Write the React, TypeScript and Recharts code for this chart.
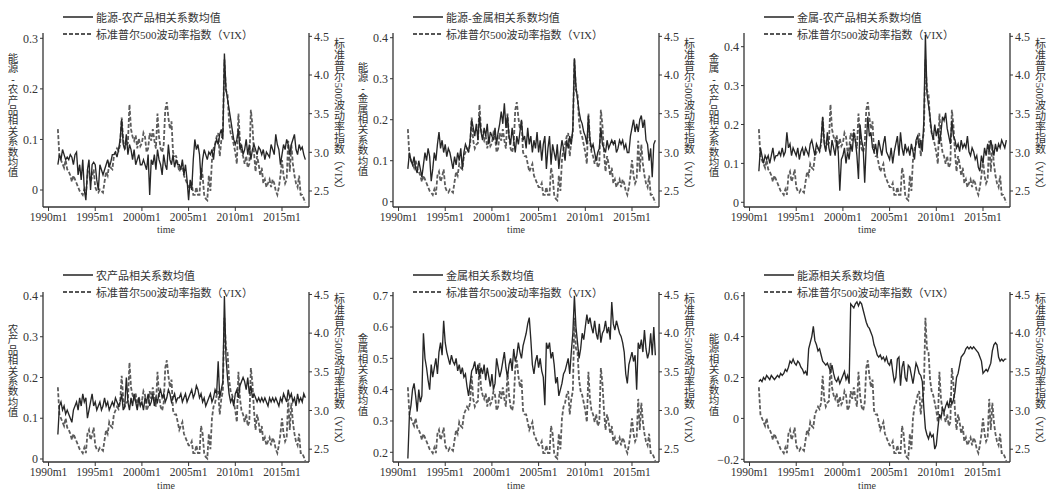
import React from "react";
import { ComposedChart, Line, XAxis, YAxis } from "recharts";

// bimonthly observations: Jan, Mar, May, Jul, Sep, Nov from 1991 to 2017m7
const months: number[] = [];
for (let y = 1991; y <= 2017; y++) {
  for (const m of [1, 3, 5, 7, 9, 11]) {
    if (y === 2017 && m > 7) break;
    months.push((y - 1990) * 12 + (m - 1));
  }
}
const xTicks = [0, 60, 120, 180, 240, 300];
const xTickLabel = (t: number) => `${1990 + t / 12}m1`;

// log VIX, shared by all six panels
const vix = [
  3.3, 2.95, 2.9, 2.85, 2.8, 2.9,
  2.78, 2.75, 2.7, 2.62, 2.7, 2.65,
  2.6, 2.55, 2.5, 2.48, 2.45, 2.52,
  2.45, 2.7, 2.75, 2.62, 2.68, 2.78,
  2.55, 2.5, 2.48, 2.52, 2.5, 2.48,
  2.62, 2.75, 2.7, 2.85, 2.8, 2.78,
  2.95, 3.0, 3.05, 3.02, 3.1, 3.45,
  3.15, 3.05, 3.1, 3.12, 3.62, 3.3,
  3.2, 3.15, 3.22, 3.05, 3.18, 3.08,
  3.12, 3.25, 3.2, 3.0, 3.05, 3.25,
  3.15, 3.3, 3.15, 3.05, 3.5, 3.2,
  3.05, 3.0, 3.1, 3.55, 3.65, 3.45,
  3.3, 3.4, 3.0, 2.95, 2.95, 2.85,
  2.75, 2.8, 2.85, 2.7, 2.65, 2.6,
  2.55, 2.55, 2.6, 2.45, 2.45, 2.55,
  2.45, 2.45, 2.8, 2.7, 2.45, 2.4,
  2.38, 2.7, 2.5, 2.9, 3.05, 3.1,
  3.2, 3.25, 2.95, 3.15, 3.25, 4.2,
  3.8, 3.75, 3.4, 3.25, 3.2, 3.1,
  3.0, 2.85, 3.5, 3.15, 3.0, 2.95,
  2.85, 2.95, 2.8, 2.85, 3.55, 3.35,
  3.0, 2.75, 2.95, 2.85, 2.7, 2.8,
  2.6, 2.65, 2.55, 2.6, 2.65, 2.55,
  2.65, 2.6, 2.5, 2.45, 2.55, 2.7,
  2.9, 2.7, 2.6, 2.65, 3.15, 2.75,
  3.1, 2.85, 2.7, 2.6, 2.55, 2.7,
  2.45, 2.45, 2.4, 2.35,
];

const energyAgri = [
  0.05, 0.07, 0.06, 0.08, 0.07, 0.06,
  0.065, 0.06, 0.07, 0.065, 0.05, 0.07,
  0.075, 0.03, 0.05, 0.02, 0.06, 0.0,
  -0.02, 0.04, 0.06, 0.0, 0.05, 0.055,
  0.05, 0.02, 0.0, 0.05, 0.04, 0.03,
  0.04, 0.05, 0.06, 0.045, 0.055, 0.07,
  0.07, 0.075, 0.065, 0.08, 0.1, 0.14,
  0.09, 0.08, 0.11, 0.07, 0.09, 0.08,
  0.06, 0.08, 0.05, 0.06, 0.07, 0.05,
  0.05, 0.06, 0.05, 0.04, 0.07, -0.01,
  0.06, 0.05, 0.07, 0.04, 0.08, 0.06,
  0.05, 0.03, 0.07, 0.05, 0.04, 0.09,
  0.06, 0.05, 0.07, 0.045, 0.06, 0.05,
  0.05, 0.04, 0.06, 0.03, 0.05, 0.02,
  -0.02, 0.02, 0.0, 0.06, 0.1, 0.08,
  0.09, 0.07, 0.02, 0.06, 0.08, 0.07,
  0.06, 0.075, 0.07, 0.08, 0.06, 0.09,
  0.1, 0.09, 0.11, 0.12, 0.1, 0.27,
  0.2, 0.18, 0.16, 0.14, 0.12, 0.1,
  0.09, 0.1, 0.12, 0.08, 0.09, 0.07,
  0.08, 0.1, 0.07, 0.09, 0.06, 0.08,
  0.09, 0.08, 0.07, 0.085, 0.08, 0.07,
  0.08, 0.06, 0.075, 0.07, 0.065, 0.09,
  0.08, 0.07, 0.11, 0.09, 0.08, 0.05,
  0.07, 0.09, 0.08, 0.1, 0.09, 0.07,
  0.09, 0.1, 0.11, 0.08, 0.07, 0.09,
  0.08, 0.085, 0.07, 0.06,
];

const energyMetal = [
  0.08, 0.12, 0.1, 0.09, 0.11, 0.08,
  0.07, 0.1, 0.08, 0.06, 0.09, 0.12,
  0.1, 0.13, 0.11, 0.05, 0.08, 0.12,
  0.1, 0.14, 0.17, 0.13, 0.15, 0.12,
  0.14, 0.11, 0.13, 0.12, 0.1, 0.08,
  0.11, 0.09, 0.12, 0.1, 0.13, 0.08,
  0.12, 0.14, 0.13, 0.12, 0.15, 0.2,
  0.18, 0.16, 0.19, 0.15, 0.21, 0.17,
  0.15, 0.18, 0.16, 0.19, 0.14, 0.17,
  0.16, 0.15, 0.18, 0.14, 0.17, 0.19,
  0.22, 0.19, 0.24, 0.18, 0.21, 0.16,
  0.14, 0.18, 0.15, 0.12, 0.16, 0.14,
  0.17, 0.2, 0.15, 0.16, 0.13, 0.18,
  0.14, 0.16, 0.12, 0.15, 0.13, 0.17,
  0.12, 0.15, 0.1, 0.14, 0.16, 0.08,
  0.13, 0.16, 0.09, 0.14, 0.12, 0.1,
  0.14, 0.08, 0.12, 0.15, 0.13, 0.1,
  0.15, 0.13, 0.16, 0.14, 0.18, 0.35,
  0.28, 0.25, 0.22, 0.2, 0.19, 0.17,
  0.16, 0.14, 0.21, 0.15, 0.13, 0.14,
  0.12, 0.1, 0.12, 0.13, 0.18, 0.14,
  0.13, 0.12, 0.15, 0.13, 0.14, 0.15,
  0.14, 0.15, 0.12, 0.13, 0.15, 0.14,
  0.15, 0.13, 0.14, 0.12, 0.12, 0.16,
  0.18, 0.2, 0.17, 0.19, 0.17, 0.2,
  0.21, 0.18, 0.2, 0.15, 0.14, 0.1,
  0.13, 0.06, 0.14, 0.15,
];

const metalAgri = [
  0.08, 0.14, 0.12, 0.1, 0.12, 0.11,
  0.12, 0.1, 0.12, 0.14, 0.11, 0.12,
  0.12, 0.13, 0.12, 0.14, 0.12, 0.13,
  0.18, 0.14, 0.15, 0.12, 0.14, 0.13,
  0.12, 0.14, 0.11, 0.13, 0.14, 0.12,
  0.14, 0.13, 0.12, 0.15, 0.16, 0.14,
  0.12, 0.15, 0.14, 0.13, 0.16, 0.22,
  0.15, 0.13, 0.18, 0.14, 0.12, 0.16,
  0.14, 0.12, 0.16, 0.13, 0.03, 0.11,
  0.12, 0.14, 0.1, 0.13, 0.11, 0.15,
  0.13, 0.18, 0.16, 0.12, 0.06, 0.2,
  0.16, 0.14, 0.05, 0.15, 0.22, 0.17,
  0.18, 0.14, 0.13, 0.15, 0.12, 0.16,
  0.14, 0.12, 0.15, 0.17, 0.13, 0.12,
  0.11, 0.14, 0.1, 0.13, 0.15, 0.17,
  0.12, 0.18, 0.14, 0.12, 0.15, 0.13,
  0.14, 0.12, 0.15, 0.13, 0.11, 0.16,
  0.17, 0.14, 0.16, 0.13, 0.21, 0.43,
  0.28, 0.25, 0.22, 0.18, 0.16, 0.2,
  0.17, 0.19, 0.15, 0.18, 0.22, 0.21,
  0.23, 0.19, 0.17, 0.15, 0.21, 0.17,
  0.16, 0.14, 0.15, 0.13, 0.16, 0.14,
  0.15, 0.14, 0.17, 0.13, 0.12, 0.14,
  0.13, 0.11, 0.12, 0.09, 0.08, 0.12,
  0.1, 0.14, 0.12, 0.15, 0.13, 0.16,
  0.14, 0.12, 0.15, 0.13, 0.15, 0.14,
  0.16, 0.15, 0.14, 0.16,
];

const agri = [
  0.06, 0.13, 0.14, 0.12, 0.13, 0.11,
  0.12, 0.11, 0.1, 0.09, 0.12, 0.13,
  0.14, 0.12, 0.15, 0.13, 0.16, 0.14,
  0.15, 0.1, 0.12, 0.14, 0.16, 0.13,
  0.14, 0.12, 0.13, 0.14, 0.12, 0.13,
  0.15, 0.13, 0.14, 0.12, 0.13, 0.14,
  0.13, 0.15, 0.14, 0.13, 0.14, 0.16,
  0.12, 0.13, 0.2, 0.14, 0.12, 0.15,
  0.13, 0.16, 0.14, 0.12, 0.15, 0.13,
  0.14, 0.12, 0.15, 0.14, 0.16, 0.13,
  0.14, 0.16, 0.13, 0.15, 0.14, 0.16,
  0.17, 0.15, 0.16, 0.14, 0.15, 0.17,
  0.16, 0.14, 0.15, 0.16, 0.14, 0.15,
  0.15, 0.16, 0.14, 0.15, 0.16, 0.14,
  0.15, 0.16, 0.17, 0.15, 0.16, 0.18,
  0.17, 0.15, 0.16, 0.14, 0.15, 0.13,
  0.14, 0.15, 0.16, 0.14, 0.15, 0.17,
  0.16, 0.24, 0.15, 0.17, 0.19, 0.4,
  0.25, 0.2, 0.16, 0.14, 0.15, 0.13,
  0.16, 0.17, 0.15, 0.18, 0.19, 0.2,
  0.19, 0.17, 0.2, 0.16, 0.18, 0.15,
  0.16, 0.15, 0.14, 0.15, 0.14, 0.15,
  0.14, 0.15, 0.14, 0.13, 0.15, 0.14,
  0.15, 0.14, 0.15, 0.14, 0.13, 0.15,
  0.14, 0.16, 0.15, 0.14, 0.17, 0.15,
  0.16, 0.14, 0.15, 0.13, 0.16, 0.14,
  0.15, 0.14, 0.16, 0.15,
];

const metal = [
  0.18, 0.32, 0.35, 0.4, 0.42, 0.38,
  0.33, 0.4, 0.36, 0.38, 0.58, 0.5,
  0.47, 0.43, 0.4, 0.48, 0.44, 0.47,
  0.5, 0.45, 0.52, 0.55, 0.51, 0.62,
  0.55, 0.52, 0.5, 0.48, 0.51, 0.49,
  0.48, 0.5, 0.46, 0.48, 0.45, 0.47,
  0.44, 0.45, 0.41, 0.38, 0.42, 0.46,
  0.47, 0.49, 0.45, 0.48, 0.44, 0.47,
  0.45, 0.48, 0.43, 0.47, 0.44, 0.41,
  0.45, 0.4, 0.42, 0.5, 0.47, 0.44,
  0.46, 0.49, 0.52, 0.47, 0.44, 0.48,
  0.5, 0.46, 0.53, 0.49, 0.51, 0.55,
  0.52, 0.5, 0.54, 0.56, 0.58, 0.61,
  0.63, 0.56, 0.48, 0.45, 0.49, 0.51,
  0.47, 0.5, 0.46, 0.44, 0.35, 0.55,
  0.53, 0.55, 0.5, 0.52, 0.48, 0.42,
  0.44, 0.38, 0.4, 0.42, 0.45, 0.46,
  0.48, 0.5, 0.45, 0.52, 0.58, 0.7,
  0.6, 0.55, 0.5, 0.53, 0.58, 0.56,
  0.6, 0.64, 0.61, 0.63, 0.6, 0.58,
  0.62, 0.58, 0.56, 0.61, 0.55, 0.58,
  0.59, 0.62, 0.58, 0.6, 0.56, 0.68,
  0.61, 0.59, 0.62, 0.6, 0.58, 0.57,
  0.55, 0.52, 0.45, 0.42, 0.48, 0.5,
  0.52, 0.49, 0.51, 0.4, 0.55, 0.53,
  0.56, 0.52, 0.59, 0.53, 0.5, 0.52,
  0.58, 0.51, 0.6, 0.51,
];

const energy = [
  0.18, 0.19, 0.18, 0.2, 0.19, 0.21,
  0.2, 0.19, 0.21, 0.2, 0.19, 0.2,
  0.21, 0.2, 0.22, 0.21, 0.22, 0.24,
  0.23, 0.25, 0.28, 0.27, 0.29, 0.27,
  0.26, 0.28, 0.27, 0.25, 0.24, 0.22,
  0.23, 0.21, 0.34, 0.37, 0.4, 0.45,
  0.38, 0.36, 0.33, 0.34, 0.31, 0.28,
  0.27, 0.26, 0.27, 0.25, 0.23, 0.26,
  0.22, 0.19, 0.18, 0.2, 0.17, 0.19,
  0.21, 0.23, 0.19, 0.21, 0.17, 0.56,
  0.55, 0.54, 0.56, 0.57, 0.55, 0.57,
  0.56, 0.53, 0.5, 0.47, 0.45, 0.44,
  0.42, 0.4, 0.36, 0.34, 0.31, 0.3,
  0.31, 0.29, 0.3, 0.28, 0.3, 0.27,
  0.26, 0.29, 0.23, 0.18, 0.2, 0.29,
  0.3, 0.16, 0.25, 0.28, 0.2, 0.18,
  0.26, 0.25, 0.21, 0.17, 0.22, 0.27,
  0.25, 0.22, 0.21, 0.18, 0.05, -0.05,
  -0.08, -0.1, -0.07, -0.09, -0.08, -0.15,
  -0.13, -0.05, 0.02, 0.0, 0.05, 0.03,
  0.06, 0.08, 0.05, 0.1, 0.07, 0.09,
  0.13, 0.2, 0.22, 0.26, 0.3, 0.31,
  0.32, 0.34, 0.35, 0.34, 0.35, 0.34,
  0.35, 0.34, 0.33, 0.32, 0.3, 0.28,
  0.22, 0.23, 0.24, 0.23, 0.25, 0.27,
  0.33, 0.36, 0.37, 0.36, 0.3, 0.28,
  0.29, 0.28, 0.29, 0.29,
];

const vixName = "标准普尔500波动率指数（VIX）";
const serif = "'Liberation Serif', 'Times New Roman', serif";
const mixed = "'Liberation Serif', 'Noto Sans CJK SC', serif";
const ink = "#333";

type PanelProps = {
  name: string;
  values: number[];
  left: number;
  top: number;
  height: number;
  marginTop: number;
  marginBottom: number;
  leftDomain: [number, number];
  leftTicks: number[];
  rightDomain: [number, number];
  labelY: number;
  rightLabelY: number;
  legendY: number;
  timeY: number;
};

const fmtLeft = (v: number) => {
  if (Math.abs(v) < 1e-9) return "0";
  const s = String(Math.round(v * 10) / 10);
  return s.replace("-", "\u2212");
};

// left axis title: characters stacked upright, one per row
const StackedLabel = ({ text, x, y }: { text: string; x: number; y: number }) => (
  <div
    style={{
      position: "absolute",
      left: x,
      top: y,
      transform: "translate(-50%, -50%)",
      display: "flex",
      flexDirection: "column",
      alignItems: "center",
      fontFamily: mixed,
      fontSize: 10.5,
      lineHeight: "10.4px",
      color: ink,
    }}
  >
    {Array.from(text).map((ch, i) => (
      <span key={i} style={{ display: "block", fontWeight: ch === "-" ? 700 : 400 }}>
        {ch}
      </span>
    ))}
  </div>
);

// right axis title: vertical writing, latin runs turned sideways
const VerticalLabel = ({ text, x, y }: { text: string; x: number; y: number }) => (
  <div
    style={{
      position: "absolute",
      left: x,
      top: y,
      transform: "translate(-50%, -50%)",
      writingMode: "vertical-rl",
      fontFamily: mixed,
      fontSize: 11,
      lineHeight: 1,
      color: ink,
      whiteSpace: "nowrap",
    }}
  >
    {text}
  </div>
);

const Panel = (p: PanelProps) => {
  const rows = months.map((t, i) => ({ t, c: p.values[i], v: vix[i] }));
  const legendRow = (y: number, dashed: boolean, label: string) => (
    <div
      style={{
        position: "absolute",
        left: 63,
        top: y - 8,
        height: 16,
        display: "flex",
        alignItems: "center",
        fontFamily: mixed,
        fontSize: 11,
        color: ink,
        whiteSpace: "nowrap",
      }}
    >
      <svg width={30} height={6} style={{ marginRight: 3 }}>
        <line
          x1={0}
          y1={3}
          x2={30}
          y2={3}
          stroke={dashed ? "#555" : "#222"}
          strokeWidth={dashed ? 1.8 : 1.5}
          strokeDasharray={dashed ? "4 2" : undefined}
        />
      </svg>
      {label}
    </div>
  );
  return (
    <div style={{ position: "absolute", left: p.left, top: p.top, width: 350, height: p.height }}>
      <ComposedChart
        width={350}
        height={p.height}
        data={rows}
        margin={{ top: p.marginTop, right: 0, bottom: p.marginBottom, left: 0 }}
      >
        <XAxis
          dataKey="t"
          type="number"
          domain={[-7.1, 334.7]}
          allowDataOverflow
          ticks={xTicks}
          interval={0}
          tickFormatter={xTickLabel}
          height={25}
          tickSize={4}
          tickMargin={2}
          axisLine={{ stroke: ink, strokeWidth: 1.3 }}
          tickLine={{ stroke: ink }}
          tick={{ fontSize: 11.5, fill: ink, fontFamily: serif }}
        />
        <YAxis
          yAxisId="l"
          orientation="left"
          width={43}
          type="number"
          domain={p.leftDomain}
          allowDataOverflow
          ticks={p.leftTicks}
          interval={0}
          tickFormatter={fmtLeft}
          tickSize={3}
          tickMargin={2}
          axisLine={{ stroke: ink, strokeWidth: 1.3 }}
          tickLine={{ stroke: ink }}
          tick={{ fontSize: 12, fill: ink, fontFamily: serif }}
        />
        <YAxis
          yAxisId="r"
          orientation="right"
          width={41}
          type="number"
          domain={p.rightDomain}
          allowDataOverflow
          ticks={[2.5, 3, 3.5, 4, 4.5]}
          interval={0}
          tickFormatter={(v: number) => v.toFixed(1)}
          tickSize={3}
          tickMargin={2}
          axisLine={{ stroke: ink, strokeWidth: 1.3 }}
          tickLine={{ stroke: ink }}
          tick={{ fontSize: 12, fill: ink, fontFamily: serif }}
        />
        <Line
          yAxisId="r"
          dataKey="v"
          type="linear"
          stroke="#5c5c5c"
          strokeWidth={1.8}
          strokeDasharray="4 2"
          dot={false}
          isAnimationActive={false}
        />
        <Line
          yAxisId="l"
          dataKey="c"
          type="linear"
          stroke="#262626"
          strokeWidth={1.35}
          dot={false}
          isAnimationActive={false}
        />
      </ComposedChart>
      {legendRow(p.legendY, false, p.name)}
      {legendRow(p.legendY + 17, true, vixName)}
      <StackedLabel text={p.name} x={13} y={p.labelY} />
      <VerticalLabel text={vixName} x={338} y={p.rightLabelY} />
      <div
        style={{
          position: "absolute",
          left: 166,
          top: p.timeY,
          transform: "translate(-50%, -50%)",
          fontFamily: serif,
          fontSize: 10,
          color: ink,
        }}
      >
        time
      </div>
    </div>
  );
};

const topRow = {
  top: 0,
  height: 245,
  marginTop: 33,
  marginBottom: 13,
  rightDomain: [2.293, 4.543] as [number, number],
  labelY: 116,
  rightLabelY: 117,
  legendY: 17,
  timeY: 229,
};
const bottomRow = {
  top: 245,
  height: 246,
  marginTop: 47,
  marginBottom: 4,
  rightDomain: [2.3345, 4.532] as [number, number],
  labelY: 127,
  rightLabelY: 127,
  legendY: 30,
  timeY: 240,
};

export default function App() {
  return (
    <div style={{ position: "absolute", left: 0, top: 0, width: 1047, height: 491, background: "#fff" }}>
      <Panel
        {...topRow}
        left={0}
        name="能源-农产品相关系数均值"
        values={energyAgri}
        leftDomain={[-0.0336, 0.3105]}
        leftTicks={[0, 0.1, 0.2, 0.3]}
      />
      <Panel
        {...topRow}
        left={350}
        name="能源-金属相关系数均值"
        values={energyMetal}
        leftDomain={[-0.0129, 0.4115]}
        leftTicks={[0, 0.1, 0.2, 0.3, 0.4]}
        labelY={120}
      />
      <Panel
        {...topRow}
        left={701}
        name="金属-农产品相关系数均值"
        values={metalAgri}
        leftDomain={[-0.0121, 0.4352]}
        leftTicks={[0, 0.1, 0.2, 0.3, 0.4]}
      />
      <Panel
        {...bottomRow}
        left={0}
        name="农产品相关系数均值"
        values={agri}
        leftDomain={[-0.0074, 0.4098]}
        leftTicks={[0, 0.1, 0.2, 0.3, 0.4]}
      />
      <Panel
        {...bottomRow}
        left={350}
        name="金属相关系数均值"
        values={metal}
        leftDomain={[0.169, 0.7118]}
        leftTicks={[0.2, 0.3, 0.4, 0.5, 0.6, 0.7]}
        labelY={131}
      />
      <Panel
        {...bottomRow}
        left={701}
        name="能源相关系数均值"
        values={energy}
        leftDomain={[-0.2132, 0.618]}
        leftTicks={[-0.2, 0, 0.2, 0.4, 0.6]}
        labelY={131}
      />
    </div>
  );
}
